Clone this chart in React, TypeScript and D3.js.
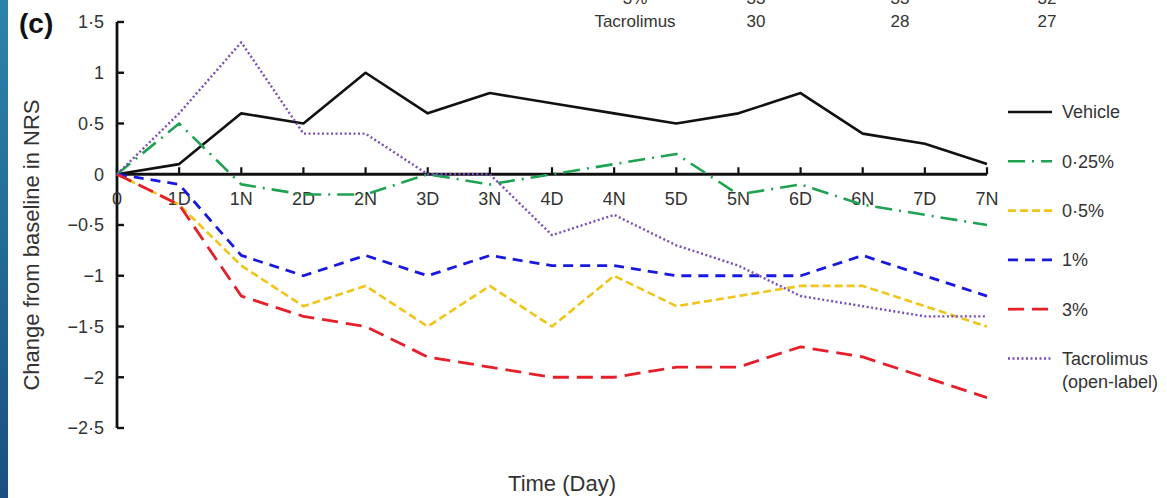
import React from "react";
import * as d3 from "d3";

// time points along the x axis
const timepoints = ["0", "1D", "1N", "2D", "2N", "3D", "3N", "4D", "4N", "5D", "5N", "6D", "6N", "7D", "7N"];

const vehicle = [0, 0.1, 0.6, 0.5, 1.0, 0.6, 0.8, 0.7, 0.6, 0.5, 0.6, 0.8, 0.4, 0.3, 0.1];
const dose025 = [0, 0.5, -0.1, -0.2, -0.2, 0, -0.1, 0, 0.1, 0.2, -0.2, -0.1, -0.3, -0.4, -0.5];
const dose05 = [0, -0.3, -0.9, -1.3, -1.1, -1.5, -1.1, -1.5, -1.0, -1.3, -1.2, -1.1, -1.1, -1.3, -1.5];
const dose1 = [0, -0.1, -0.8, -1.0, -0.8, -1.0, -0.8, -0.9, -0.9, -1.0, -1.0, -1.0, -0.8, -1.0, -1.2];
const dose3 = [0, -0.3, -1.2, -1.4, -1.5, -1.8, -1.9, -2.0, -2.0, -1.9, -1.9, -1.7, -1.8, -2.0, -2.2];
const tacrolimus = [0, 0.6, 1.3, 0.4, 0.4, 0, 0, -0.6, -0.4, -0.7, -0.9, -1.2, -1.3, -1.4, -1.4];

const yTicks = [1.5, 1, 0.5, 0, -0.5, -1, -1.5, -2, -2.5];

// bits of the table above the chart (the upper row is cut off by the crop)
const tableRowTop = ["3%", "33", "33", "32"];
const tableRowBottom = ["Tacrolimus", "30", "28", "27"];

const series = [
  { name: ["Vehicle"], values: vehicle, color: "#111111", dash: "none", width: 2.6 },
  { name: ["0·25%"], values: dose025, color: "#1fa352", dash: "17,7,2,7", width: 2.6 },
  { name: ["0·5%"], values: dose05, color: "#f0c419", dash: "8,4", width: 2.6 },
  { name: ["1%"], values: dose1, color: "#1818e0", dash: "10,7", width: 2.8 },
  { name: ["3%"], values: dose3, color: "#e5202a", dash: "16,8", width: 2.8 },
  { name: ["Tacrolimus", "(open-label)"], values: tacrolimus, color: "#7a4cb8", dash: "2,2.5", width: 2.4 },
];

const fmt = (v: number) => {
  const s = String(Math.abs(v)).replace(".", "·");
  return v < 0 ? "\u2212" + s : s;
};

const App: React.FC = () => {
  const W = 1167;
  const H = 498;
  const x = d3.scalePoint<string>().domain(timepoints).range([117, 987]);
  const y = d3.scaleLinear().domain([-2.5, 1.5]).range([428, 22]);

  const line = d3
    .line<number>()
    .x((_, i) => x(timepoints[i])!)
    .y(d => y(d));

  const font = "'Liberation Sans', Arial, sans-serif";
  const tableX = [635, 756, 900, 1047];

  return (
    <svg
      width={W}
      height={H}
      style={{ position: "absolute", left: 0, top: 0, background: "#fff" }}
      fontFamily={font}
    >
      <defs>
        <linearGradient id="strip" x1="0" y1="0" x2="0" y2="1">
          <stop offset="0%" stopColor="#2b84ab" />
          <stop offset="100%" stopColor="#1a4f82" />
        </linearGradient>
      </defs>
      <rect x={0} y={0} width={8} height={H} fill="url(#strip)" />

      {/* table fragment at the top */}
      {tableRowTop.map((t, i) => (
        <text key={"t" + i} x={tableX[i]} y={4} textAnchor="middle" fontSize={17} fill="#333">
          {t}
        </text>
      ))}
      {tableRowBottom.map((t, i) => (
        <text key={"b" + i} x={tableX[i]} y={27} textAnchor="middle" fontSize={17} fill="#333">
          {t}
        </text>
      ))}

      <text x={19} y={33} fontSize={28} fontWeight="bold" fill="#111">
        (c)
      </text>

      {/* y axis */}
      <line x1={117} x2={117} y1={y(1.5)} y2={y(-2.5)} stroke="#111" strokeWidth={2.8} />
      {yTicks.map(t => (
        <g key={t}>
          <line x1={117} x2={124} y1={y(t)} y2={y(t)} stroke="#111" strokeWidth={2.4} />
          <text x={104} y={y(t)} dy="0.35em" textAnchor="end" fontSize={18} fill="#333">
            {fmt(t)}
          </text>
        </g>
      ))}

      {/* x axis */}
      <line x1={117} x2={x("7N")!} y1={y(0)} y2={y(0)} stroke="#111" strokeWidth={2.8} />
      {timepoints.map(t => (
        <g key={t}>
          <line x1={x(t)!} x2={x(t)!} y1={y(0)} y2={y(0) - 7} stroke="#111" strokeWidth={2.2} />
          <text x={x(t)!} y={y(0) + 31} textAnchor="middle" fontSize={18} fill="#333">
            {t}
          </text>
        </g>
      ))}

      {series.map(s => (
        <path
          key={s.name[0]}
          d={line(s.values)!}
          fill="none"
          stroke={s.color}
          strokeWidth={s.width}
          strokeDasharray={s.dash}
          strokeLinejoin="round"
        />
      ))}

      {/* legend */}
      {series.map((s, i) => {
        const ly = 112 + i * 49.3;
        return (
          <g key={"lg" + i}>
            <line x1={1008} x2={1052} y1={ly} y2={ly} stroke={s.color} strokeWidth={s.width} strokeDasharray={s.dash} />
            {s.name.map((n, j) => (
              <text key={n} x={1062} y={ly + j * 23} dy="0.35em" fontSize={18} fill="#333">
                {n}
              </text>
            ))}
          </g>
        );
      })}

      <text
        transform={`translate(31, 245) rotate(-90)`}
        textAnchor="middle"
        dy="0.35em"
        fontSize={22}
        fill="#333"
      >
        Change from baseline in NRS
      </text>
      <text x={562} y={491} textAnchor="middle" fontSize={22} fill="#333">
        Time (Day)
      </text>
    </svg>
  );
};

export default App;
